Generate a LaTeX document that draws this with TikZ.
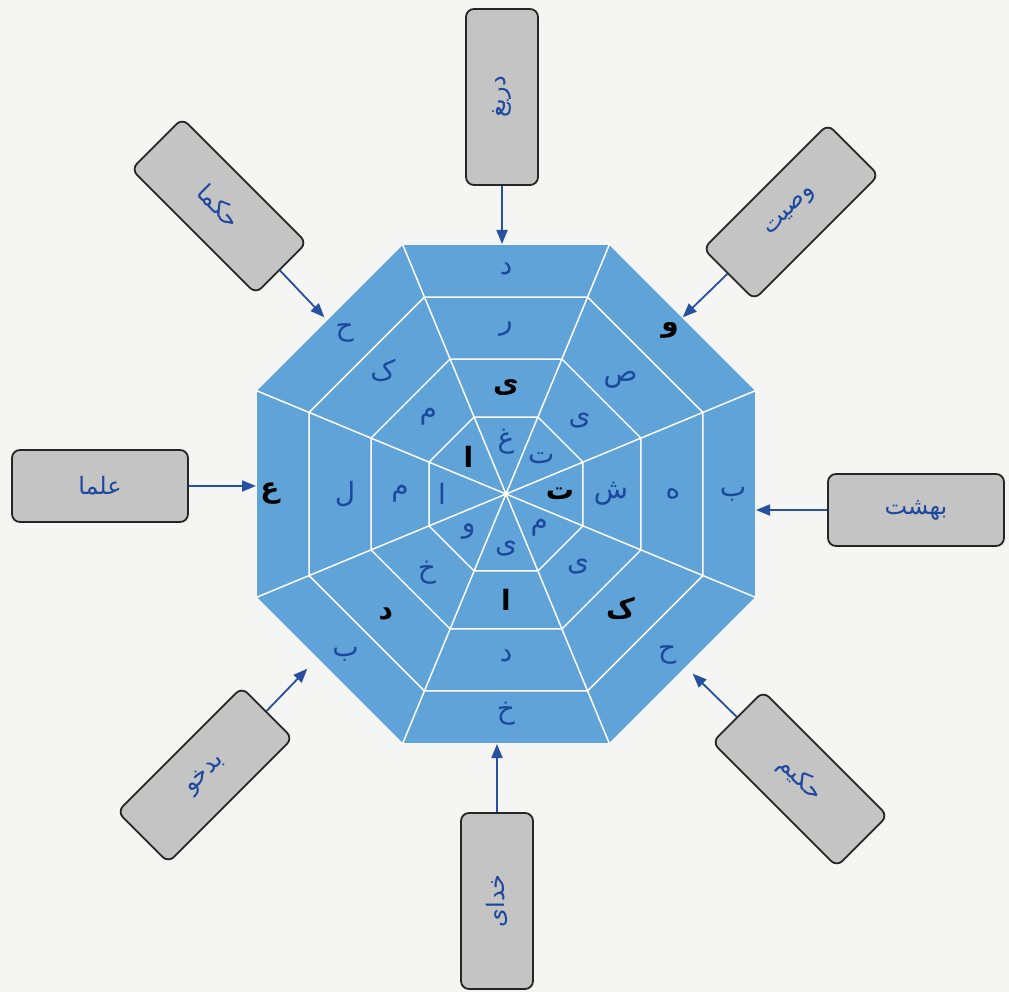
\documentclass[tikz,border=0pt]{standalone}
\usepackage{fontspec}
\newfontfamily\arabicfont[Script=Arabic]{DejaVu Sans}
\TeXXeTstate=1
\usetikzlibrary{arrows.meta,calc}
\definecolor{octblue}{RGB}{95,163,216}
\definecolor{letblue}{RGB}{28,72,158}
\definecolor{boxgray}{RGB}{196,196,196}
\definecolor{arrblue}{RGB}{38,80,160}
\definecolor{bgc}{RGB}{245,245,244}
\begin{document}
\begin{tikzpicture}[x=1pt,y=1pt,
  box/.style={draw=black!85, line width=1.8pt, fill=boxgray, rounded corners=8pt,
    minimum width=176pt, minimum height=72pt, inner sep=0pt,
    font=\fontsize{24}{28}\arabicfont, text=letblue},
  arr/.style={draw=arrblue, line width=1.8pt, -{Triangle[length=14pt,width=11pt]}, shorten >=1pt},
  cellb/.style={font=\fontsize{28}{32}\arabicfont, text=letblue, inner sep=0pt},
  cellk/.style={font=\fontsize{28}{32}\arabicfont\bfseries, text=black, inner sep=0pt},
  ring/.style={draw=white, line width=1.5pt}
]
\fill[bgc] (0,0) rectangle (1009,-992);
\useasboundingbox (0,0) rectangle (1009,-992);
\begin{scope}[shift={(506,-494)}]
  \fill[octblue] (22.5:269.5) -- (67.5:269.5) -- (112.5:269.5) -- (157.5:269.5)
    -- (202.5:269.5) -- (247.5:269.5) -- (292.5:269.5) -- (337.5:269.5) -- cycle;
  \foreach \R in {213.2,146.1,83.3}
    \draw[ring] (22.5:\R) -- (67.5:\R) -- (112.5:\R) -- (157.5:\R)
      -- (202.5:\R) -- (247.5:\R) -- (292.5:\R) -- (337.5:\R) -- cycle;
  \foreach \a in {22.5,67.5,...,337.5}
    \draw[ring] (0,0) -- (\a:269.5);
  % top sector
  \node[cellb] (t1) at (90:225) {\arabicfont\beginR د\endR};
  \node[cellb] (t2) at (90:165) {\arabicfont\beginR ر\endR};
  \node[cellk] (t3) at (90:106) {\arabicfont\bfseries\beginR ی\endR};
  \node[cellb] (t4) at (90:52) {\arabicfont\beginR غ\endR};
  % top-right sector
  \node[cellk] (tr1) at (45:232) {\arabicfont\bfseries\beginR و\endR};
  \node[cellb] (tr2) at (45:162) {\arabicfont\beginR ص\endR};
  \node[cellb] (tr3) at (45:104) {\arabicfont\beginR ی\endR};
  \node[cellb] (tr4) at (45:50) {\arabicfont\beginR ت\endR};
  % right sector
  \node[cellb] (r1) at (0:227) {\arabicfont\beginR ب\endR};
  \node[cellb] (r2) at (0:167) {\arabicfont\beginR ه\endR};
  \node[cellb] (r3) at (0:105) {\arabicfont\beginR ش\endR};
  \node[cellk] (r4) at (0:54) {\arabicfont\bfseries\beginR ت\endR};
  % bottom-right sector
  \node[cellb] (br1) at (-45:228) {\arabicfont\beginR ح\endR};
  \node[cellk] (br2) at (-45:162) {\arabicfont\bfseries\beginR ک\endR};
  \node[cellb] (br3) at (-45:102) {\arabicfont\beginR ی\endR};
  \node[cellb] (br4) at (-45:47) {\arabicfont\beginR م\endR};
  % bottom sector
  \node[cellb] (b1) at (-90:220) {\arabicfont\beginR خ\endR};
  \node[cellb] (b2) at (-90:162) {\arabicfont\beginR د\endR};
  \node[cellk] (b3) at (-90:106) {\arabicfont\bfseries\beginR ا\endR};
  \node[cellb] (b4) at (-90:55) {\arabicfont\beginR ی\endR};
  % bottom-left sector
  \node[cellb] (bl1) at (-135:227) {\arabicfont\beginR ب\endR};
  \node[cellk] (bl2) at (-135:170) {\arabicfont\bfseries\beginR د\endR};
  \node[cellb] (bl3) at (-135:112) {\arabicfont\beginR خ\endR};
  \node[cellb] (bl4) at (-135:53) {\arabicfont\beginR و\endR};
  % left sector
  \node[cellk] (l1) at (180:236) {\arabicfont\bfseries\beginR ع\endR};
  \node[cellb] (l2) at (180:161) {\arabicfont\beginR ل\endR};
  \node[cellb] (l3) at (180:106) {\arabicfont\beginR م\endR};
  \node[cellb] (l4) at (180:64) {\arabicfont\beginR ا\endR};
  % top-left sector
  \node[cellb] (tl1) at (135:228) {\arabicfont\beginR ح\endR};
  \node[cellb] (tl2) at (135:174) {\arabicfont\beginR ک\endR};
  \node[cellb] (tl3) at (135:110) {\arabicfont\beginR م\endR};
  \node[cellk] (tl4) at (135:53) {\arabicfont\bfseries\beginR ا\endR};
  % edge midpoints
  \coordinate (mT) at (90:249);
  \coordinate (mR) at (0:249);
  \coordinate (mB) at (-90:249);
  \coordinate (mL) at (180:249);
\end{scope}
% arrow targets on diagonal edges
\coordinate (mTL) at (325,-318);
\coordinate (mTR) at (682,-318);
\coordinate (mBR) at (692,-673);
\coordinate (mBL) at (308,-668);
% boxes
\node[box, rotate=90] (bT) at (502,-97) {\beginR دریغ\endR};
\node[box, rotate=45] (bTR) at (791,-212) {\beginR وصیت\endR};
\node[box] (bR) at (916,-510) {\beginR بهشت\endR};
\node[box, rotate=-45] (bBR) at (800,-779) {\beginR حکیم\endR};
\node[box, rotate=90] (bB) at (497,-901) {\beginR خدای\endR};
\node[box, rotate=45] (bBL) at (205,-775) {\beginR بدخو\endR};
\node[box] (bL) at (100,-486) {\beginR علما\endR};
\node[box, rotate=-45] (bTL) at (219,-206) {\beginR حکما\endR};
% arrows
\draw[arr] (bT) -- (bT |- mT);
\draw[arr] (bB) -- (bB |- mB);
\draw[arr] (bL) -- (bL -| mL);
\draw[arr] (bR) -- (bR -| mR);
\draw[arr] (bTL) -- (mTL);
\draw[arr] (bTR) -- (mTR);
\draw[arr] (bBR) -- (mBR);
\draw[arr] (bBL) -- (mBL);
\end{tikzpicture}
\end{document}
